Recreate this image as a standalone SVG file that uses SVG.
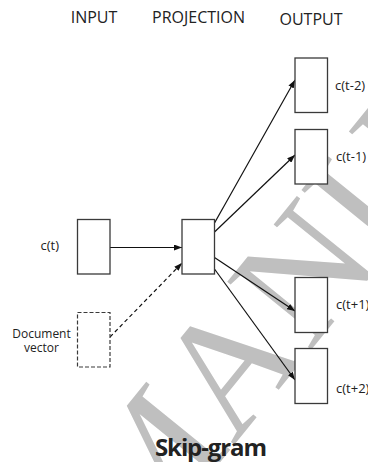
<svg xmlns="http://www.w3.org/2000/svg" width="368" height="462" viewBox="0 0 368 462">
<style>
.box{fill:#fff;stroke:#3a3a3a;stroke-width:1.3}
.dbox{fill:#fff;stroke:#3a3a3a;stroke-width:1.2;stroke-dasharray:4 2}
.hdr{font-family:"Open Sans",sans-serif;font-size:16px;fill:#222;text-anchor:middle}
.lbl{font-family:"Open Sans",sans-serif;font-size:13px;fill:#222}
.doc{font-family:"Open Sans",sans-serif;font-size:12px;fill:#222;text-anchor:middle}
.ttl{font-family:"Open Sans",sans-serif;font-size:24px;font-weight:bold;fill:#222;text-anchor:middle}
.edge{stroke:#111;stroke-width:1.2;fill:none;marker-end:url(#ah)}
.dash{stroke-dasharray:4 3}
.wm{font-family:"Liberation Serif",serif;font-size:165px;fill:#bfbfbf}
</style>
<defs>
<marker id="ah" markerUnits="userSpaceOnUse" markerWidth="8" markerHeight="6" refX="8" refY="3" orient="auto">
<path d="M0,0 L8,3 L0,6 z" fill="#111"/>
</marker>
</defs>
<rect width="368" height="462" fill="#fff"/>
<text class="wm" transform="translate(141,560) rotate(-51)">MANU</text>
<g id="headers">
<text class="hdr" x="94" y="22.5">INPUT</text>
<text class="hdr" x="198.5" y="22.5">PROJECTION</text>
<text class="hdr" x="311" y="24.5">OUTPUT</text>
</g>
<g id="connectors">
<line class="edge" x1="110" y1="247.5" x2="182" y2="247.5"/>
<line class="edge dash" x1="110" y1="337" x2="182" y2="263"/>
<line class="edge" x1="214.5" y1="223" x2="295" y2="80"/>
<line class="edge" x1="214.5" y1="232" x2="295" y2="155"/>
<line class="edge" x1="214.5" y1="257.5" x2="295" y2="311"/>
<line class="edge" x1="214.5" y1="269" x2="295" y2="380"/>
</g>
<g id="input-ct">
<rect class="box" x="77.5" y="219.5" width="32.5" height="54.5"/>
<text class="lbl" x="40.5" y="250">c(t)</text>
</g>
<g id="input-doc">
<rect class="dbox" x="77.5" y="312.5" width="32.5" height="54.5"/>
<text class="doc"><tspan x="41.5" y="338">Document</tspan><tspan x="41.5" y="351.5">vector</tspan></text>
</g>
<g id="projection">
<rect class="box" x="182" y="219.5" width="32.5" height="54.5"/>
</g>
<g id="out-t-2">
<rect class="box" x="295" y="58" width="32.5" height="54.5"/>
<text class="lbl" x="335" y="90">c(t-2)</text>
</g>
<g id="out-t-1">
<rect class="box" x="295" y="129.5" width="32.5" height="54.5"/>
<text class="lbl" x="336" y="160.5">c(t-1)</text>
</g>
<g id="out-t1">
<rect class="box" x="295" y="277.5" width="32.5" height="55"/>
<text class="lbl" x="336" y="308.5">c(t+1)</text>
</g>
<g id="out-t2">
<rect class="box" x="295" y="348.5" width="32.5" height="55"/>
<text class="lbl" x="336" y="392.5">c(t+2)</text>
</g>
<text class="ttl" x="211" y="456" textLength="112" lengthAdjust="spacing">Skip-gram</text>
</svg>
